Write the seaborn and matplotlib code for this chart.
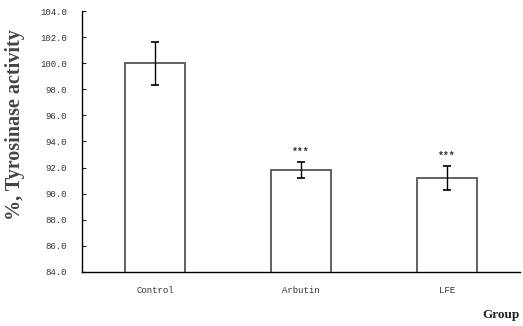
import numpy as np
import pandas as pd
import seaborn as sns
import matplotlib.pyplot as plt

# values
groups = ['Control', 'Arbutin', 'LFE']
activity = [100.0, 91.8, 91.2]
sem = [1.65, 0.6, 0.95]
stars = ['', '***', '***']
y_ticks = [84, 86, 88, 90, 92, 94, 96, 98, 100, 102, 104]

df = pd.DataFrame({'group': groups, 'activity': activity})

sns.set_style('white')
plt.rcParams['font.family'] = ['Liberation Mono', 'DejaVu Sans']

fig = plt.figure(figsize=(5.23, 3.26), dpi=100)
ax = fig.add_axes([0.157, 0.166, 0.837, 0.80])

sns.barplot(data=df, x='group', y='activity', color='white', edgecolor='#555555',
            linewidth=1.3, width=0.41, ax=ax)
ax.errorbar(range(len(groups)), activity, yerr=sem, fmt='none', ecolor='black',
            elinewidth=1.0, capsize=3, capthick=1.2)
for i, s in enumerate(stars):
    if s:
        ax.text(i, activity[i] + sem[i] + 0.4, s, ha='center', va='bottom',
                fontsize=7, fontweight='bold', color='#333333')

ax.set_xlim(-0.5, 2.5)
ax.set_ylim(84, 104)
ax.set_yticks(y_ticks)
ax.set_yticklabels(['%.1f' % v for v in y_ticks], fontsize=6.5, color='#333333')
ax.set_xticks(range(len(groups)))
ax.set_xticklabels(groups, fontsize=6.5, color='#333333')
ax.set_xticks([0.5, 1.5, 2.5], minor=True)
ax.tick_params(axis='x', which='major', length=0, pad=10)
ax.tick_params(axis='x', which='minor', direction='in', length=3, width=0.8)
ax.tick_params(axis='y', direction='in', length=3, width=0.8, left=True, pad=11)

for side in ['top', 'right']:
    ax.spines[side].set_visible(False)
for side in ['left', 'bottom']:
    ax.spines[side].set_color('black')
    ax.spines[side].set_linewidth(1.0)

ax.set_xlabel('')
ax.set_ylabel('%, Tyrosinase activity', family='Liberation Serif', fontsize=14.5,
              fontweight='bold', color='#444444')
ax.yaxis.set_label_coords(-0.13, 0.565)
fig.text(0.958, 0.035, 'Group', family='Liberation Serif', fontsize=9.5,
         fontweight='bold', ha='center', va='center', color='#222222')

fig.savefig('out.png', dpi=100)
